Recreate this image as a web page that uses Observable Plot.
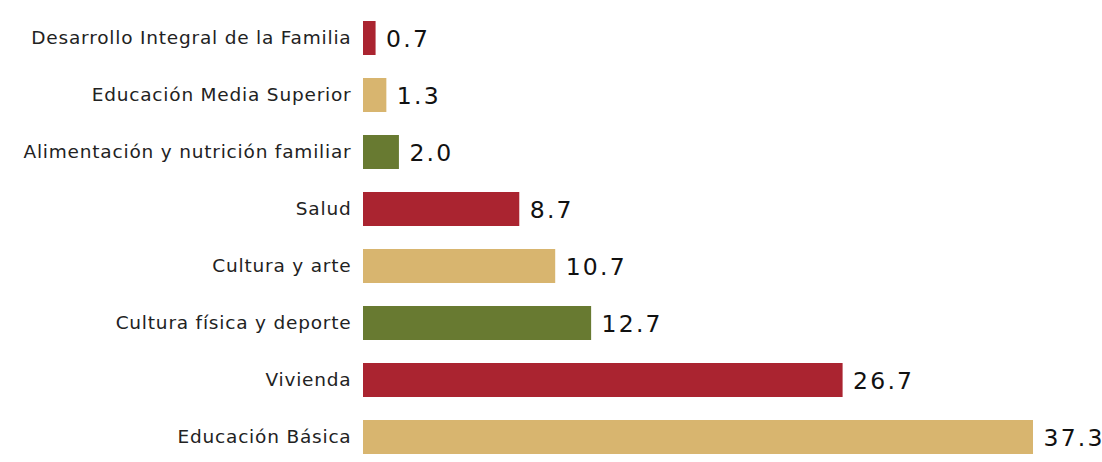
<!DOCTYPE html>
<html><head><meta charset="utf-8">
<script src="https://cdn.jsdelivr.net/npm/d3@7"></script>
<script src="https://cdn.jsdelivr.net/npm/@observablehq/plot@0.6"></script>
<style>
html,body{margin:0;padding:0;background:#fff;}
svg{display:block;}
.cat text{letter-spacing:0.8px;}
.val text{letter-spacing:2.2px;}
</style>
</head><body><div id="chart"></div>
<script>
const categories = ["Desarrollo Integral de la Familia","Educación Media Superior","Alimentación y nutrición familiar","Salud","Cultura y arte","Cultura física y deporte","Vivienda","Educación Básica"];
const values = [0.7, 1.3, 2.0, 8.7, 10.7, 12.7, 26.7, 37.3];
const labels = ["0.7","1.3","2.0","8.7","10.7","12.7","26.7","37.3"];
const palette = ["#aa2430","#d8b56f","#687a31"];

const data = categories.map((c,i)=>({category:c, value:values[i], label:labels[i]}));

const chart = Plot.plot({
  width: 1102, height: 462,
  marginLeft: 363, marginRight: 0, marginTop: 0, marginBottom: 0,
  style: {fontFamily: "'DejaVu Sans', sans-serif", background: "transparent"},
  x: {domain: [0, 37.3], range: [363, 1033], axis: null},
  y: {domain: categories, range: [9, 466.6], paddingInner: 0.41, paddingOuter: 0.205, axis: null},
  color: {domain: categories, range: categories.map((c,i)=>palette[i%3])},
  marks: [
    Plot.barX(data, {y:"category", x:"value", fill:"category"}),
    Plot.ruleX([0], {stroke:"#d8b56f", strokeWidth:1.5, y1: () => 9, y2: () => 462}),
    Plot.text(data, {y:"category", x:0, text:"category", textAnchor:"end", dx:-12, fontSize:18.5, fill:"#222", className:"cat"}),
    Plot.text(data, {y:"category", x:"value", text:"label", textAnchor:"start", dx:10, fontSize:23.5, fill:"#111", dy:1, className:"val"})
  ]
});
document.getElementById("chart").appendChild(chart);
</script>
</body></html>
